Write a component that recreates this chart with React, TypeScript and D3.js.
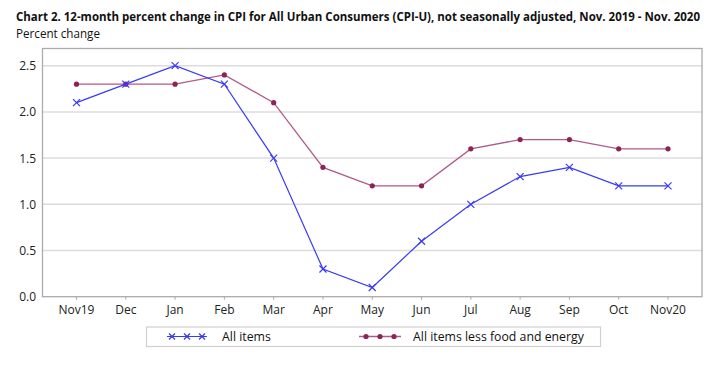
import React from "react";
import * as d3 from "d3";

const months = ["Nov19", "Dec", "Jan", "Feb", "Mar", "Apr", "May", "Jun", "Jul", "Aug", "Sep", "Oct", "Nov20"];
const allItems = [2.1, 2.3, 2.5, 2.3, 1.5, 0.3, 0.1, 0.6, 1.0, 1.3, 1.4, 1.2, 1.2];
const coreItems = [2.3, 2.3, 2.3, 2.4, 2.1, 1.4, 1.2, 1.2, 1.6, 1.7, 1.7, 1.6, 1.6];
const yTicks = [0, 0.5, 1.0, 1.5, 2.0, 2.5];

const FONT = "'Open Sans', 'Noto Sans', sans-serif";
const BLUE = "#3a3af5";
const MAROON_LINE = "#b05a88";
const MAROON_DOT = "#8e2257";

export default function App() {
  const left = 42.5, right = 702, top = 48.5, bottom = 296.7;
  const x = d3.scalePoint<string>().domain(months).range([76.5, 668]);
  const y = d3.scaleLinear().domain([0, 2.5]).range([bottom, 65.7]);
  const line = d3.line<number>().x((_, i) => x(months[i])!).y((d) => y(d));

  const xMark = (cx: number, cy: number, s: number, key: string) => (
    <g key={key} stroke={BLUE} strokeWidth={1.2}>
      <line x1={cx - s} y1={cy - s} x2={cx + s} y2={cy + s} />
      <line x1={cx - s} y1={cy + s} x2={cx + s} y2={cy - s} />
    </g>
  );

  return (
    <svg width={720} height={376} style={{ position: "absolute", left: 0, top: 0, background: "#fff" }} fontFamily={FONT}>
      <text x={16} y={21} fontSize={11.1} fontWeight="bold" fill="#111" textLength={684} lengthAdjust="spacingAndGlyphs" transform="translate(16,21) scale(1,1.1) translate(-16,-21)">
        Chart 2. 12-month percent change in CPI for All Urban Consumers (CPI-U), not seasonally adjusted, Nov. 2019 - Nov. 2020
      </text>
      <text x={16} y={38} fontSize={12.3} fill="#111" textLength={84} lengthAdjust="spacingAndGlyphs">Percent change</text>

      {yTicks.map((t) => (
        <g key={t}>
          {t > 0 && <line x1={left} x2={right} y1={y(t)} y2={y(t)} stroke="#dcdcdc" strokeWidth={1.5} />}
          <text x={36} y={y(t) + 4.5} fontSize={12} textAnchor="end" fill="#222">{t.toFixed(1)}</text>
        </g>
      ))}
      <rect x={left} y={top} width={right - left} height={bottom - top} fill="none" stroke="#ababab" strokeWidth={1.3} />
      {months.map((m) => (
        <g key={m}>
          <line x1={x(m)!} x2={x(m)!} y1={bottom} y2={bottom + 3} stroke="#ababab" />
          <text x={x(m)!} y={bottom + 17} fontSize={12} textAnchor="middle" fill="#222">{m}</text>
        </g>
      ))}

      <path d={line(coreItems)!} fill="none" stroke={MAROON_LINE} strokeWidth={1.3} />
      {coreItems.map((v, i) => (
        <circle key={i} cx={x(months[i])!} cy={y(v)} r={2.6} fill={MAROON_DOT} />
      ))}
      <path d={line(allItems)!} fill="none" stroke={BLUE} strokeWidth={1.2} />
      {allItems.map((v, i) => xMark(x(months[i])!, y(v), 3.5, "a" + i))}

      <rect x={146.5} y={327} width={454} height={19.5} fill="none" stroke="#d0d0d0" strokeWidth={1.2} />
      <line x1={167} x2={207} y1={336.5} y2={336.5} stroke={BLUE} strokeWidth={1.2} />
      {[172, 187, 202].map((cx, i) => xMark(cx, 336.5, 3, "l" + i))}
      <text x={222} y={341} fontSize={12.3} fill="#111">All items</text>
      <line x1={359} x2={401} y1={336.5} y2={336.5} stroke={MAROON_LINE} strokeWidth={1.3} />
      {[366, 380, 394].map((cx, i) => (
        <circle key={i} cx={cx} cy={336.5} r={2.6} fill={MAROON_DOT} />
      ))}
      <text x={413} y={341} fontSize={12.3} fill="#111">All items less food and energy</text>
    </svg>
  );
}
